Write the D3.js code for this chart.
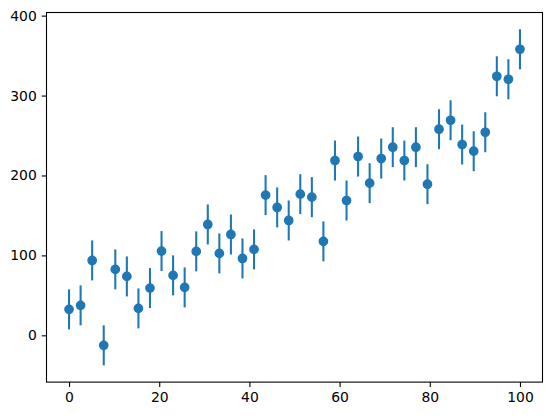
<!DOCTYPE html>
<html>
<head>
<meta charset="utf-8">
<script src="https://cdn.jsdelivr.net/npm/d3@7"></script>
<style>
  body { margin: 0; background: #fff; }
  svg text { font-family: "DejaVu Sans", sans-serif; font-size: 13.9px; fill: #000; }
</style>
</head>
<body>
<svg id="chart" width="552" height="416"></svg>
<script>
// values (x = 40 evenly spaced points from 0 to 100)
const xValues = d3.range(40).map(i => i * 100 / 39)
const yValues = [32.5, 37.5, 93.7, -12.5, 82.5, 73.7, 33.7, 59.1, 105.4, 75,
  60, 105, 138.7, 102.5, 126.2, 96.2, 107.5, 175.4, 160, 143.7,
  176.6, 172.9, 117.5, 218.7, 168.7, 223.7, 190.4, 221.2, 235.4, 218.7,
  235.4, 189.1, 257.9, 269.1, 238.7, 230.4, 254.1, 324.1, 320.4, 357.9]
const yErr = 25
const xTicks = [0, 20, 40, 60, 80, 100]
const yTicks = [0, 100, 200, 300, 400]

const data = xValues.map((x, i) => ({x: x, y: yValues[i]}))

const svg = d3.select('#chart')
const padLeft = 46.5, padTop = 12.5, w = 496, h = 369.6
const color = '#1f77b4'

// matplotlib style 5% margins
const yLo = d3.min(data, d => d.y - yErr), yHi = d3.max(data, d => d.y + yErr)
const yPad = (yHi - yLo) * 0.05
const xScale = d3.scaleLinear().domain([-5, 105]).range([padLeft, padLeft + w])
const yScale = d3.scaleLinear().domain([yLo - yPad, yHi + yPad]).range([padTop + h, padTop])

// error bars
svg.selectAll('.err')
  .data(data)
  .join('line')
    .attr('class', 'err')
    .attr('x1', d => xScale(d.x))
    .attr('x2', d => xScale(d.x))
    .attr('y1', d => yScale(d.y - yErr))
    .attr('y2', d => yScale(d.y + yErr))
    .attr('stroke', color)
    .attr('stroke-width', 2.08)

// points (marker face + 1pt edge like matplotlib)
svg.selectAll('.dot')
  .data(data)
  .join('circle')
    .attr('class', 'dot')
    .attr('r', 4.17)
    .attr('cx', d => xScale(d.x))
    .attr('cy', d => yScale(d.y))
    .attr('fill', color)
    .attr('stroke', color)
    .attr('stroke-width', 1.39)

// X axis
svg.append('g')
  .attr('transform', 'translate(0,' + (padTop + h) + ')')
  .call(d3.axisBottom(xScale).tickValues(xTicks).tickSize(4.86).tickPadding(4.86).tickFormat(d3.format('d')))
  .call(g => g.select('.domain').remove())
  .call(g => g.selectAll('line').attr('stroke-width', 1.1))
  .call(g => g.selectAll('text').attr('font-size', null).attr('font-family', null))

// Y axis
svg.append('g')
  .attr('transform', 'translate(' + padLeft + ',0)')
  .call(d3.axisLeft(yScale).tickValues(yTicks).tickSize(4.86).tickPadding(4.86).tickFormat(d3.format('d')))
  .call(g => g.select('.domain').remove())
  .call(g => g.selectAll('line').attr('stroke-width', 1.1))
  .call(g => g.selectAll('text').attr('font-size', null).attr('font-family', null))

// frame
svg.append('rect')
  .attr('x', padLeft).attr('y', padTop)
  .attr('width', w).attr('height', h)
  .attr('fill', 'none')
  .attr('stroke', '#000')
  .attr('stroke-width', 1.1)
</script>
</body>
</html>
